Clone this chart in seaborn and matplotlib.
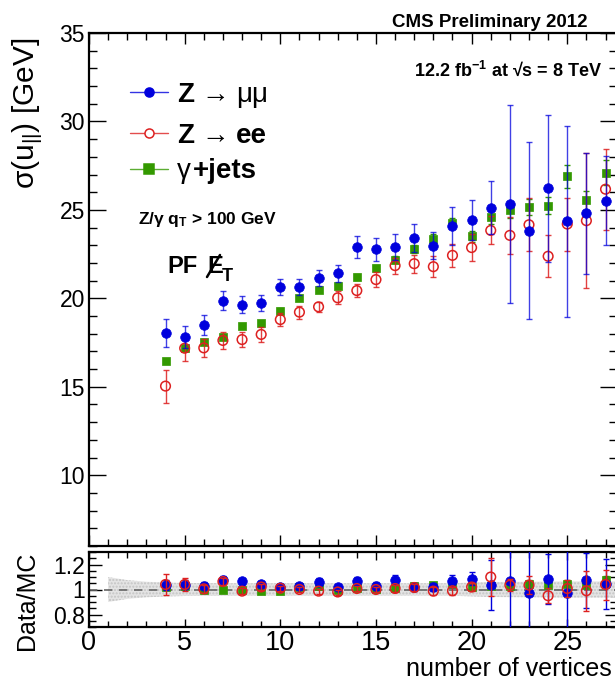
import numpy as np
import pandas as pd
import matplotlib
matplotlib.use("Agg")
import matplotlib.pyplot as plt
import seaborn as sns
from matplotlib.lines import Line2D
from matplotlib.ticker import MultipleLocator, FixedLocator

# ---------------- data ----------------
nvtx = [4, 5, 6, 7, 8, 9, 10, 11, 12, 13, 14, 15, 16, 17, 18, 19, 20, 21, 22, 23, 24, 25, 26, 27]

mumu = [18.03, 17.82, 18.50, 19.86, 19.65, 19.74, 20.63, 20.63, 21.16, 21.42, 22.89, 22.77,
        22.89, 23.40, 22.98, 24.09, 24.43, 25.12, 25.31, 23.81, 26.22, 24.35, 24.80, 25.52]
mumu_err = [0.80, 0.60, 0.55, 0.53, 0.47, 0.46, 0.46, 0.46, 0.46, 0.49, 0.62, 0.65,
            0.73, 0.79, 0.76, 1.06, 1.14, 1.50, 5.60, 5.00, 4.15, 5.40, 3.40, 2.50]

ee = [15.04, 17.18, 17.20, 17.62, 17.67, 17.96, 18.80, 19.22, 19.52, 20.03, 20.44, 21.06,
      21.85, 21.96, 21.79, 22.43, 22.87, 23.84, 23.56, 24.16, 22.38, 24.20, 24.39, 26.17]
ee_err = [0.93, 0.75, 0.50, 0.50, 0.40, 0.40, 0.38, 0.36, 0.30, 0.36, 0.39, 0.42,
          0.45, 0.50, 0.58, 0.65, 0.75, 0.79, 1.03, 1.50, 1.20, 1.50, 3.80, 2.30]

gjets = [16.47, 17.17, 17.56, 17.80, 18.41, 18.60, 19.31, 20.03, 20.48, 20.70, 21.19, 21.70,
         22.19, 22.79, 23.37, 24.28, 23.50, 24.58, 24.97, 25.16, 25.24, 26.89, 25.54, 27.10]
gjets_err = [0.10, 0.10, 0.10, 0.10, 0.10, 0.12, 0.12, 0.13, 0.14, 0.15, 0.17, 0.18,
             0.20, 0.22, 0.25, 0.28, 0.30, 0.35, 0.40, 0.45, 0.50, 0.65, 0.55, 0.70]

# Data/MC ratios
mumu_r = [1.040, 1.040, 1.032, 1.075, 1.066, 1.045, 1.020, 1.030, 1.064, 1.020, 1.067, 1.030,
          1.080, 1.020, 1.020, 1.067, 1.088, 1.035, 1.070, 0.973, 1.083, 0.973, 1.075, 1.048]
mumu_r_err = [0.040, 0.035, 0.030, 0.030, 0.030, 0.025, 0.025, 0.025, 0.025, 0.025, 0.030, 0.030,
              0.035, 0.035, 0.035, 0.050, 0.050, 0.200, 0.400, 0.400, 0.200, 0.400, 0.220, 0.200]
ee_r = [1.040, 1.040, 1.005, 1.064, 0.987, 1.020, 1.010, 1.000, 0.987, 0.980, 1.008, 1.000,
        1.008, 1.016, 0.987, 0.990, 1.020, 1.100, 1.035, 1.035, 0.950, 1.008, 0.990, 1.040]
ee_r_err = [0.085, 0.055, 0.030, 0.030, 0.025, 0.025, 0.020, 0.020, 0.020, 0.020, 0.020, 0.020,
            0.025, 0.025, 0.030, 0.030, 0.035, 0.150, 0.050, 0.070, 0.060, 0.070, 0.160, 0.120]
gj_r = [1.020, 1.027, 1.000, 1.000, 1.000, 0.987, 0.990, 1.020, 1.030, 0.997, 1.016, 1.005,
        1.016, 1.027, 1.035, 1.048, 1.020, 1.030, 1.027, 1.048, 1.040, 1.048, 1.040, 1.075]
gj_r_err = [0.01, 0.01, 0.01, 0.01, 0.01, 0.01, 0.01, 0.01, 0.01, 0.01, 0.01, 0.012,
            0.012, 0.015, 0.015, 0.015, 0.02, 0.02, 0.02, 0.025, 0.025, 0.03, 0.03, 0.035]

# systematic band in ratio panel
band_x = [1, 2, 3, 4, 5, 8, 12, 16, 19, 20, 21, 23, 25, 27.6]
band_hw = [0.10, 0.075, 0.062, 0.056, 0.052, 0.05, 0.05, 0.05, 0.05, 0.055, 0.06, 0.062, 0.065, 0.065]

# ---------------- style ----------------
sns.set_theme(style="ticks")
plt.rcParams['font.family'] = ['Liberation Sans', 'DejaVu Sans']
plt.rcParams['mathtext.fontset'] = 'custom'
plt.rcParams['mathtext.rm'] = 'Liberation Sans'
plt.rcParams['mathtext.bf'] = 'Liberation Sans:bold'
plt.rcParams['mathtext.it'] = 'Liberation Sans:italic'
plt.rcParams['axes.linewidth'] = 1.6
plt.rcParams['text.color'] = 'black'
plt.rcParams['xtick.color'] = 'black'
plt.rcParams['ytick.color'] = 'black'
plt.rcParams['xtick.labelcolor'] = 'black'
plt.rcParams['ytick.labelcolor'] = 'black'

BLUE = '#0000dd'
RED = '#dd2020'
GREEN = '#339900'

W, H = 615, 684
fig = plt.figure(figsize=(W / 100, H / 100), dpi=100)
fig.patch.set_facecolor('white')


def fx(x):
    return x / W


def fy(y):
    return 1 - y / H


left_px, right_px = 89, 617
ax = fig.add_axes([fx(left_px), fy(546), (right_px - left_px) / W, (546 - 33) / H])
rax = fig.add_axes([fx(left_px), fy(627), (right_px - left_px) / W, (627 - 552) / H])

for a in (ax, rax):
    a.set_facecolor('white')
    for s in a.spines.values():
        s.set_color('black')
        s.set_linewidth(1.6)

# ---------------- main panel ----------------
df = pd.DataFrame({'n': nvtx, 'mumu': mumu, 'ee': ee, 'gj': gjets})

ax.errorbar(nvtx, gjets, yerr=gjets_err, fmt='none', ecolor=GREEN, elinewidth=1.0, capsize=2, zorder=2)
sns.scatterplot(data=df, x='n', y='gj', marker='s', s=40, color=GREEN, edgecolor=GREEN,
                linewidth=0.5, ax=ax, zorder=3, legend=False)
ax.errorbar(nvtx, ee, yerr=ee_err, fmt='none', ecolor=RED, elinewidth=1.0, capsize=2, alpha=0.85, zorder=4)
sns.scatterplot(data=df, x='n', y='ee', marker='o', s=48, facecolor='none', edgecolor=RED,
                linewidth=1.1, ax=ax, zorder=5, legend=False)
ax.errorbar(nvtx, mumu, yerr=mumu_err, fmt='none', ecolor=BLUE, elinewidth=1.0, capsize=2, alpha=0.75, zorder=6)
sns.scatterplot(data=df, x='n', y='mumu', marker='o', s=48, color=BLUE, edgecolor=BLUE,
                linewidth=0.5, ax=ax, zorder=7, legend=False)

ax.set_xlim(0, 27.6)
ax.set_ylim(6, 35)
ax.set_xlabel('')
ax.set_ylabel('')
ax.xaxis.set_major_locator(MultipleLocator(5))
ax.xaxis.set_minor_locator(MultipleLocator(1))
ax.yaxis.set_major_locator(FixedLocator([10, 15, 20, 25, 30, 35]))
ax.yaxis.set_minor_locator(MultipleLocator(1))
ax.tick_params(which='both', direction='in', top=True, right=True, labelbottom=False,
               color='black', labelcolor='black', width=1.0)
ax.tick_params(axis='y', which='major', length=12, labelsize=16.5, pad=3)
ax.tick_params(axis='y', which='minor', length=6)
ax.tick_params(axis='x', which='major', length=8)
ax.tick_params(axis='x', which='minor', length=5)

# ---------------- ratio panel ----------------
rdf = pd.DataFrame({'n': nvtx, 'mumu': mumu_r, 'ee': ee_r, 'gj': gj_r})
bx = np.array(band_x)
bh = np.array(band_hw)
rax.fill_between(bx, 1 - bh, 1 + bh, facecolor='#e4e4e4', edgecolor='#c4c4c4', hatch='.....',
                 linewidth=0, zorder=1)
rax.axhline(1.0, color='#666666', ls=(0, (5, 4)), lw=1.2, zorder=2)

rax.errorbar(nvtx, gj_r, yerr=gj_r_err, fmt='none', ecolor=GREEN, elinewidth=1.0, capsize=2, zorder=3)
sns.scatterplot(data=rdf, x='n', y='gj', marker='s', s=40, color=GREEN, edgecolor=GREEN,
                linewidth=0.5, ax=rax, zorder=4, legend=False)
rax.errorbar(nvtx, mumu_r, yerr=mumu_r_err, fmt='none', ecolor=BLUE, elinewidth=1.0, capsize=2, zorder=5)
sns.scatterplot(data=rdf, x='n', y='mumu', marker='o', s=48, color=BLUE, edgecolor=BLUE,
                linewidth=0.5, ax=rax, zorder=6, legend=False)
rax.errorbar(nvtx, ee_r, yerr=ee_r_err, fmt='none', ecolor=RED, elinewidth=1.0, capsize=2, zorder=7)
sns.scatterplot(data=rdf, x='n', y='ee', marker='o', s=48, facecolor='none', edgecolor=RED,
                linewidth=1.1, ax=rax, zorder=8, legend=False)

rax.set_xlim(0, 27.6)
rax.set_ylim(0.7, 1.3)
rax.set_xlabel('')
rax.set_ylabel('')
rax.xaxis.set_major_locator(MultipleLocator(5))
rax.xaxis.set_minor_locator(MultipleLocator(1))
rax.yaxis.set_major_locator(FixedLocator([0.8, 1.0, 1.2]))
rax.yaxis.set_minor_locator(MultipleLocator(0.05))
rax.set_yticklabels(['0.8', '1', '1.2'])
rax.tick_params(which='both', direction='in', top=True, right=True, color='black',
                labelcolor='black', width=1.0)
rax.tick_params(axis='y', which='major', length=9, labelsize=16.5, pad=3)
rax.tick_params(axis='y', which='minor', length=5)
rax.tick_params(axis='x', which='major', length=6, labelsize=19.5, pad=2)
rax.tick_params(axis='x', which='minor', length=4)

# ---------------- texts ----------------
fig.text(fx(588), fy(27), 'CMS Preliminary 2012', ha='right', va='baseline',
         fontsize=13.5, fontweight='bold')
fig.text(fx(602), fy(76), r'12.2 fb$^{\mathbf{-1}}$ at √s = 8 TeV', ha='right', va='baseline',
         fontsize=13, fontweight='bold')
fig.text(fx(138), fy(224), r'Z/γ q$_{\mathbf{T}}$ > 100 GeV', ha='left', va='baseline',
         fontsize=12.5, fontweight='bold')

# PF MET (E with a slash drawn as a line)
fig.text(fx(167), fy(273), 'PF', ha='left', va='baseline', fontsize=17, fontweight='bold')
fig.text(fx(207), fy(273), 'E', ha='left', va='baseline', fontsize=17, fontweight='bold')
fig.add_artist(Line2D([fx(207), fx(220)], [fy(277), fy(255)], color='black', lw=1.8,
                      transform=fig.transFigure))
fig.text(fx(222), fy(281), 'T', ha='left', va='baseline', fontsize=13, fontweight='bold')

# axis titles
fig.text(fx(28), fy(38), r'σ(u$_{||}$) [GeV]', rotation=90, ha='center', va='top', fontsize=21.5)
fig.text(fx(27), fy(552), 'Data/MC', rotation=90, ha='center', va='top', fontsize=18)
fig.text(fx(612), fy(676), 'number of vertices', ha='right', va='baseline', fontsize=18)

# ---------------- legend (manual) ----------------
rows = [(92, BLUE, 'o', True), (133, RED, 'o', False), (169, GREEN, 's', True)]
for (yy, col, mk, filled) in rows:
    fig.add_artist(Line2D([fx(130), fx(168)], [fy(yy), fy(yy)], color=col, lw=1.0,
                          transform=fig.transFigure, alpha=0.8))
    fig.add_artist(Line2D([fx(149)], [fy(yy)], marker=mk, markersize=6.5,
                          markerfacecolor=(col if filled else 'white'), markeredgecolor=col,
                          markeredgewidth=1.1, transform=fig.transFigure, linestyle='none'))

renderer = fig.canvas.get_renderer()


def seq(pieces, x0, ybase):
    """Draw text pieces left to right; each piece = (text, weight, gap_after_px)."""
    x = x0
    for txt, wt, gap in pieces:
        t = fig.text(fx(x), fy(ybase), txt, ha='left', va='baseline', fontsize=20, fontweight=wt)
        bb = t.get_window_extent(renderer=renderer)
        x += bb.width + gap


seq([('Z', 'bold', 7), ('→', 'normal', 7), ('μμ', 'normal', 0)], 177, 102)
seq([('Z', 'bold', 7), ('→', 'normal', 7), ('ee', 'bold', 0)], 177, 143)
seq([('γ', 'normal', 2), ('+jets', 'bold', 0)], 177, 178)

fig.savefig('out.png', dpi=100, facecolor='white')
